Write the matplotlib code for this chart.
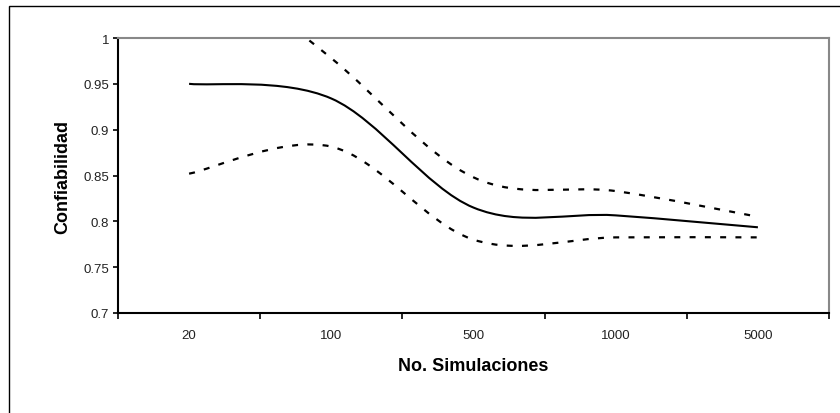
import numpy as np
import matplotlib
matplotlib.use("Agg")
import matplotlib.pyplot as plt
from matplotlib.path import Path
from matplotlib.patches import PathPatch, Rectangle

# values
simulaciones = ["20", "100", "500", "1000", "5000"]
confiabilidad = [0.950, 0.934, 0.815, 0.8065, 0.7935]
limite_sup = [1.10, 0.978, 0.848, 0.833, 0.805]
limite_inf = [0.852, 0.8815, 0.780, 0.7825, 0.7825]

plt.rcParams['font.family'] = ['Liberation Sans', 'DejaVu Sans']
plt.rcParams['lines.scale_dashes'] = False


def smooth_path(y):
    # Excel-like smoothed line: cubic bezier through every point
    x = np.arange(len(y), dtype=float)
    y = np.asarray(y, dtype=float)
    xp = np.concatenate([[x[0]], x, [x[-1]]])
    yp = np.concatenate([[y[0]], y, [y[-1]]])
    verts = [(x[0], y[0])]
    codes = [Path.MOVETO]
    for i in range(len(y) - 1):
        c1 = (x[i] + (xp[i + 2] - xp[i]) / 6, y[i] + (yp[i + 2] - yp[i]) / 6)
        c2 = (x[i + 1] - (xp[i + 3] - xp[i + 1]) / 6, y[i + 1] - (yp[i + 3] - yp[i + 1]) / 6)
        verts += [c1, c2, (x[i + 1], y[i + 1])]
        codes += [Path.CURVE4] * 3
    return Path(verts, codes)


fig = plt.figure(figsize=(8.4, 4.14), dpi=100)
ax = fig.add_axes([118 / 840, 100 / 414, 711 / 840, 275 / 414])

ax.add_patch(PathPatch(smooth_path(confiabilidad), fill=False, ec='black', lw=1.5))
ax.add_patch(PathPatch(smooth_path(limite_sup), fill=False, ec='black', lw=1.6,
                       linestyle=(0, (4.3, 6.7))))
ax.add_patch(PathPatch(smooth_path(limite_inf), fill=False, ec='black', lw=1.6,
                       linestyle=(0, (4.3, 6.7))))

ax.set_xlim(-0.5, len(simulaciones) - 0.5)
ax.set_ylim(0.7, 1.0)
ax.set_yticks([0.7, 0.75, 0.8, 0.85, 0.9, 0.95, 1.0])
ax.set_yticklabels(['0.7', '0.75', '0.8', '0.85', '0.9', '0.95', '1'])
ax.set_xticks(range(len(simulaciones)))
ax.set_xticklabels(simulaciones)
ax.set_xticks(np.arange(-0.5, len(simulaciones)), minor=True)

ax.tick_params(axis='x', which='major', length=0, pad=11.5, labelsize=9.5, colors='#222')
ax.tick_params(axis='x', which='minor', length=4, width=1.2, direction='out', color='black')
ax.tick_params(axis='y', length=3.5, width=1.2, direction='out', pad=3, labelsize=9.5,
               labelcolor='#222', color='black')

for s in ['left', 'bottom']:
    ax.spines[s].set_color('black')
    ax.spines[s].set_linewidth(1.5)
for s in ['top', 'right']:
    ax.spines[s].set_color('#888888')
    ax.spines[s].set_linewidth(1.5)

ax.set_xlabel('No. Simulaciones', fontsize=13, fontweight='bold')
ax.set_ylabel('Confiabilidad', fontsize=13, fontweight='bold')
ax.xaxis.set_label_coords(0.5, -53 / 275)
ax.xaxis.label.set_va('center')
ax.yaxis.set_label_coords(-55 / 711, 0.5)
ax.yaxis.label.set_va('center')

# outer chart-area border (only left and top edges fall inside the picture)
fig.patches.append(Rectangle((8.5 / 840, -0.2), 1.2, 1.2 - 6.5 / 414, transform=fig.transFigure,
                             fill=False, ec='black', lw=1.0))

fig.savefig('out.png', dpi=100)
